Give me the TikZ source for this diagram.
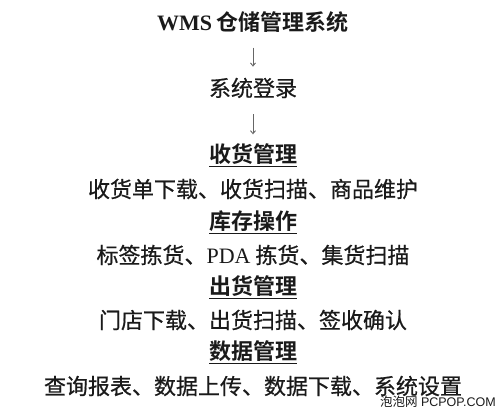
\documentclass[tikz,border=0pt]{standalone}
\usepackage{fontspec}
\setmainfont{Liberation Serif}
\newfontfamily\cjk{Noto Sans CJK SC}[BoldFont={Noto Sans CJK SC Bold}]
\newfontfamily\cjkm{Noto Sans CJK SC}[FakeBold=0.6]
\newfontfamily\wmsans{Liberation Sans}
\definecolor{ink}{HTML}{1A1A1A}
\definecolor{arr}{HTML}{666666}
\usetikzlibrary{arrows.meta}
\begin{document}
\begin{tikzpicture}[x=1pt,y=-1pt,
  txt/.style={inner sep=0pt,text=ink,font=\fontsize{22}{22}\selectfont\cjkm},
  head/.style={txt,font=\fontsize{22}{22}\selectfont\cjk\bfseries},
  link/.style={draw=arr,line width=0.9pt,-{Straight Barb[length=3pt,width=5pt]}},
  wm/.style={inner sep=0pt,text=ink,font=\fontsize{12.5}{12.5}\selectfont\wmsans}]
\useasboundingbox (0,0) rectangle (500,411);
\node[head] (title) at (253,22) {{\rmfamily\bfseries WMS} 仓储管理系统};
\node[txt] (login) at (253,88) {系统登录};
\node[head] (h1) at (253,155) {\underline{收货管理}};
\node[txt] (l1) at (253,189) {收货单下载、收货扫描、商品维护};
\node[head] (h2) at (253,222) {\underline{库存操作}};
\node[txt] (l2) at (253,255) {标签拣货、{\rmfamily PDA} 拣货、集货扫描};
\node[head] (h3) at (253,287) {\underline{出货管理}};
\node[txt] (l3) at (253,320) {门店下载、出货扫描、签收确认};
\node[head] (h4) at (253,352) {\underline{数据管理}};
\node[txt] (l4) at (253,386) {查询报表、数据上传、数据下载、系统设置};
\node[wm,anchor=south east] (mark) at (496,408) {{\cjk 泡泡网} PCPOP.COM};
\draw[link,shorten <=15pt,shorten >=11pt] (title.south) -- (login.north);
\draw[link,shorten <=16pt,shorten >=9pt] (login.south) -- (h1.north);
\end{tikzpicture}
\end{document}
